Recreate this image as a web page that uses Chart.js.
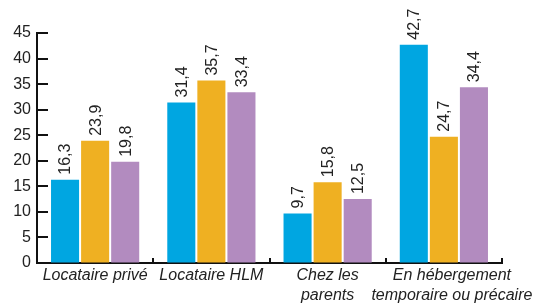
<!DOCTYPE html>
<html>
<head>
<meta charset="utf-8">
<script src="https://cdn.jsdelivr.net/npm/chart.js@4/dist/chart.umd.min.js"></script>
<style>
html,body{margin:0;padding:0;background:#fff;}
#wrap{width:550px;height:305px;position:relative;}
</style>
</head>
<body>
<div id="wrap"><canvas id="c" width="550" height="305"></canvas></div>
<script>
const categories = [["Locataire privé"], ["Locataire HLM"], ["Chez les", "parents"], ["En hébergement", "temporaire ou précaire"]];
const series1 = [16.3, 31.4, 9.7, 42.7];
const series2 = [23.9, 35.7, 15.8, 24.7];
const series3 = [19.8, 33.4, 12.5, 34.4];
const yTicks = [0, 5, 10, 15, 20, 25, 30, 35, 40, 45];
const colors = ["#00A6E1", "#EFB022", "#B28BBF"];

const fmt = v => v.toFixed(1).replace('.', ',');

const valueLabels = {
  id: 'valueLabels',
  afterDatasetsDraw(chart) {
    const ctx = chart.ctx;
    ctx.save();
    ctx.fillStyle = '#222';
    ctx.font = '16px "Liberation Sans", Arial, sans-serif';
    ctx.textAlign = 'left';
    ctx.textBaseline = 'middle';
    chart.data.datasets.forEach((ds, di) => {
      const meta = chart.getDatasetMeta(di);
      meta.data.forEach((bar, i) => {
        ctx.save();
        ctx.translate(bar.x + 1, bar.y - 5);
        ctx.rotate(-Math.PI / 2);
        ctx.fillText(fmt(ds.data[i]), 0, 0);
        ctx.restore();
      });
    });
    ctx.restore();
  }
};

const innerTicks = {
  id: 'innerTicks',
  afterDraw(chart) {
    const ctx = chart.ctx;
    const y = chart.scales.y, x = chart.scales.x;
    const ca = chart.chartArea;
    ctx.save();
    ctx.strokeStyle = '#111';
    ctx.lineWidth = 2;
    ctx.beginPath();
    yTicks.forEach(v => {
      const py = Math.round(y.getPixelForValue(v));
      if (v === 0) return;
      ctx.moveTo(ca.left, py);
      ctx.lineTo(ca.left + 11, py);
    });
    const n = categories.length;
    for (let i = 0; i < n; i++) {
      let px;
      if (i < n - 1) px = (x.getPixelForValue(i) + x.getPixelForValue(i + 1)) / 2;
      else px = ca.right;
      px = Math.round(px);
      ctx.moveTo(px, ca.bottom);
      ctx.lineTo(px, ca.bottom - 5);
    }
    ctx.stroke();
    ctx.restore();
  }
};

// category label shift (last label sits slightly right of its group in the reference)
const shiftLastLabel = {
  id: 'shiftLastLabel',
  afterUpdate(chart) {
    const x = chart.scales.x;
    const items = x._labelItems || (x.getLabelItems && x.getLabelItems());
    if (items && items.length) {
      const last = items[items.length - 1];
      if (last && !last._shifted) { last.options.translation[0] += 8; last._shifted = true; }
    }
  }
};

new Chart(document.getElementById('c'), {
  type: 'bar',
  data: {
    labels: categories,
    datasets: [
      { data: series1, backgroundColor: colors[0] },
      { data: series2, backgroundColor: colors[1] },
      { data: series3, backgroundColor: colors[2] }
    ]
  },
  options: {
    responsive: false,
    animation: false,
    events: [],
    layout: { padding: { top: 33, right: 48, left: 0, bottom: 0 } },
    datasets: { bar: { categoryPercentage: 0.776, barPercentage: 0.933 } },
    plugins: { legend: { display: false }, tooltip: { enabled: false } },
    scales: {
      x: {
        grid: { display: true, drawOnChartArea: false, drawTicks: false },
        border: { display: true, color: '#111', width: 2 },
        ticks: {
          color: '#222',
          padding: 3,
          maxRotation: 0,
          autoSkip: false,
          font: { family: '"Liberation Sans", Arial, sans-serif', size: 16, style: 'italic', lineHeight: 1.25 }
        },
        afterFit(s) { s.height = 42; }
      },
      y: {
        min: 0, max: 45,
        afterBuildTicks(s) { s.ticks = yTicks.map(v => ({ value: v })); },
        grid: { display: true, drawOnChartArea: false, drawTicks: false },
        border: { display: true, color: '#111', width: 2 },
        ticks: {
          color: '#222',
          padding: 6,
          font: { family: '"Liberation Sans", Arial, sans-serif', size: 16 }
        },
        afterFit(s) { s.width = 37; }
      }
    }
  },
  plugins: [valueLabels, innerTicks, shiftLastLabel]
});
</script>
</body>
</html>
